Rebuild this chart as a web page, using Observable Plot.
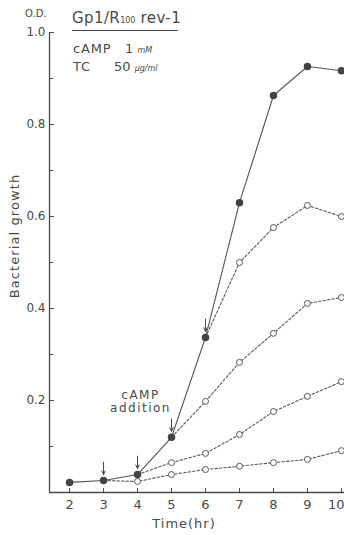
<!DOCTYPE html>
<html><head><meta charset="utf-8">
<script src="https://cdn.jsdelivr.net/npm/d3@7"></script>
<script src="https://cdn.jsdelivr.net/npm/@observablehq/plot@0.6"></script>
<style>
body{margin:0;background:#fff;}
#wrap{position:relative;width:344px;height:535px;overflow:hidden;font-family:"DejaVu Sans",sans-serif;color:#4a4a4a;}
#wrap svg{position:absolute;left:0;top:0;}
.ann{position:absolute;white-space:nowrap;line-height:1.15;}
.sm{font-size:8px;font-style:italic;}
</style></head><body><div id="wrap">
<div class="ann" style="left:25px;top:8px;font-size:10px">O.D.</div>
<div class="ann" style="left:72px;top:10px;font-size:15px;letter-spacing:0.4px;width:106px;border-bottom:1.2px solid #444;padding-bottom:3px">Gp1/R<span style="font-size:8px;letter-spacing:0">100</span> rev-1</div>
<div class="ann" style="left:73px;top:42px;font-size:13px;letter-spacing:0.8px">cAMP</div>
<div class="ann" style="left:125px;top:42px;font-size:13px">1 <span class="sm">mM</span></div>
<div class="ann" style="left:73px;top:60px;font-size:13px;letter-spacing:0.8px">TC</div>
<div class="ann" style="left:114px;top:60px;font-size:13px">50 <span class="sm">μg/ml</span></div>
<div class="ann" style="left:15px;top:236px;font-size:13px;letter-spacing:1.1px;transform:translate(-50%,-50%) rotate(-90deg)">Bacterial growth</div>
<div class="ann" style="left:184px;top:524px;font-size:13px;letter-spacing:1px;transform:translate(-50%,-50%)">Time(hr)</div>
</div>
<script>
// Data
const time = [2, 3, 4, 5, 6, 7, 8, 9, 10];
const control = [0.022, 0.026, 0.039, 0.12, 0.337, 0.63, 0.863, 0.926, 0.917];
const additionTimes = [3, 4, 5, 6];
const afterAdd3 = [0.024, 0.039, 0.05, 0.057, 0.065, 0.072, 0.091]; // t = 4..10
const afterAdd4 = [0.065, 0.085, 0.126, 0.176, 0.209, 0.241];      // t = 5..10
const afterAdd5 = [0.198, 0.283, 0.346, 0.411, 0.424];             // t = 6..10
const afterAdd6 = [0.5, 0.576, 0.624, 0.6];                        // t = 7..10
const yTicks = [0.2, 0.4, 0.6, 0.8, 1.0];
const yMinor = [0.1, 0.3, 0.5, 0.7, 0.9];
const annotationText = "cAMP\naddition";

const ctrl = t => control[time.indexOf(t)];
const controlData = time.map((t, i) => ({t, v: control[i]}));
const treated = [afterAdd3, afterAdd4, afterAdd5, afterAdd6].map((vals, k) => {
  const t0 = additionTimes[k];
  return [{t: t0, v: ctrl(t0), s: k}, ...vals.map((v, j) => ({t: t0 + 1 + j, v, s: k}))];
});
const dashed = treated.flat();
const openDots = treated.flatMap(d => d.slice(1));
const arrows = additionTimes.map(t => ({t, v: ctrl(t)}));

const xDomain = [1.41, 10.09];
const ink = "#4a4a4a";
const lastT = time[time.length - 1];

const chart = Plot.plot({
  width: 344, height: 535,
  marginLeft: 49, marginRight: 0, marginTop: 32, marginBottom: 43,
  style: {fontFamily: "DejaVu Sans, sans-serif", fontSize: "12px", background: "transparent", color: ink},
  x: {domain: xDomain, axis: null},
  y: {domain: [0, 1], axis: null},
  marks: [
    Plot.axisX(time, {tickSize: -4, text: null, label: null, color: ink}),
    Plot.axisX(time.filter(t => t !== lastT), {tickSize: 0, tickPadding: 7, fontSize: 13, label: null, color: ink}),
    Plot.axisX([lastT], {tickSize: 0, tickPadding: 7, fontSize: 13, label: null, color: ink, textAnchor: "end", dx: 3}),
    Plot.axisY(yTicks, {tickSize: -5, tickPadding: 9, tickFormat: d3.format(".1f"), label: null, color: ink}),
    Plot.axisY(yMinor, {tickSize: -4, text: null, label: null, color: ink}),
    Plot.ruleY([0], {stroke: ink, strokeWidth: 1.3}),
    Plot.ruleX([xDomain[0]], {stroke: ink, strokeWidth: 1.3}),
    Plot.line(dashed, {x: "t", y: "v", z: "s", stroke: "#5a5a5a", strokeWidth: 1.1, strokeDasharray: "2.5,2"}),
    Plot.line(controlData, {x: "t", y: "v", stroke: "#555", strokeWidth: 1.1}),
    Plot.dot(openDots, {x: "t", y: "v", r: 3, fill: "white", stroke: "#555", strokeWidth: 1}),
    Plot.dot(controlData, {x: "t", y: "v", r: 3, fill: "#444", stroke: "#444"}),
    Plot.arrow(arrows, {x1: "t", x2: "t", y1: d => d.v + 0.04, y2: "v", insetEnd: 6, headLength: 6, headAngle: 50, stroke: ink, strokeWidth: 1}),
    Plot.text([{t: 5, v: ctrl(5)}], {x: "t", y: "v", text: () => annotationText, lineAnchor: "bottom", lineHeight: 1.08, fontSize: 12, dx: -31, dy: -25, fill: ink})
  ]
});
d3.select(chart).selectAll('g[aria-label="text"] text').style("letter-spacing", "1.5px");
document.getElementById("wrap").prepend(chart);
</script>
</body></html>
